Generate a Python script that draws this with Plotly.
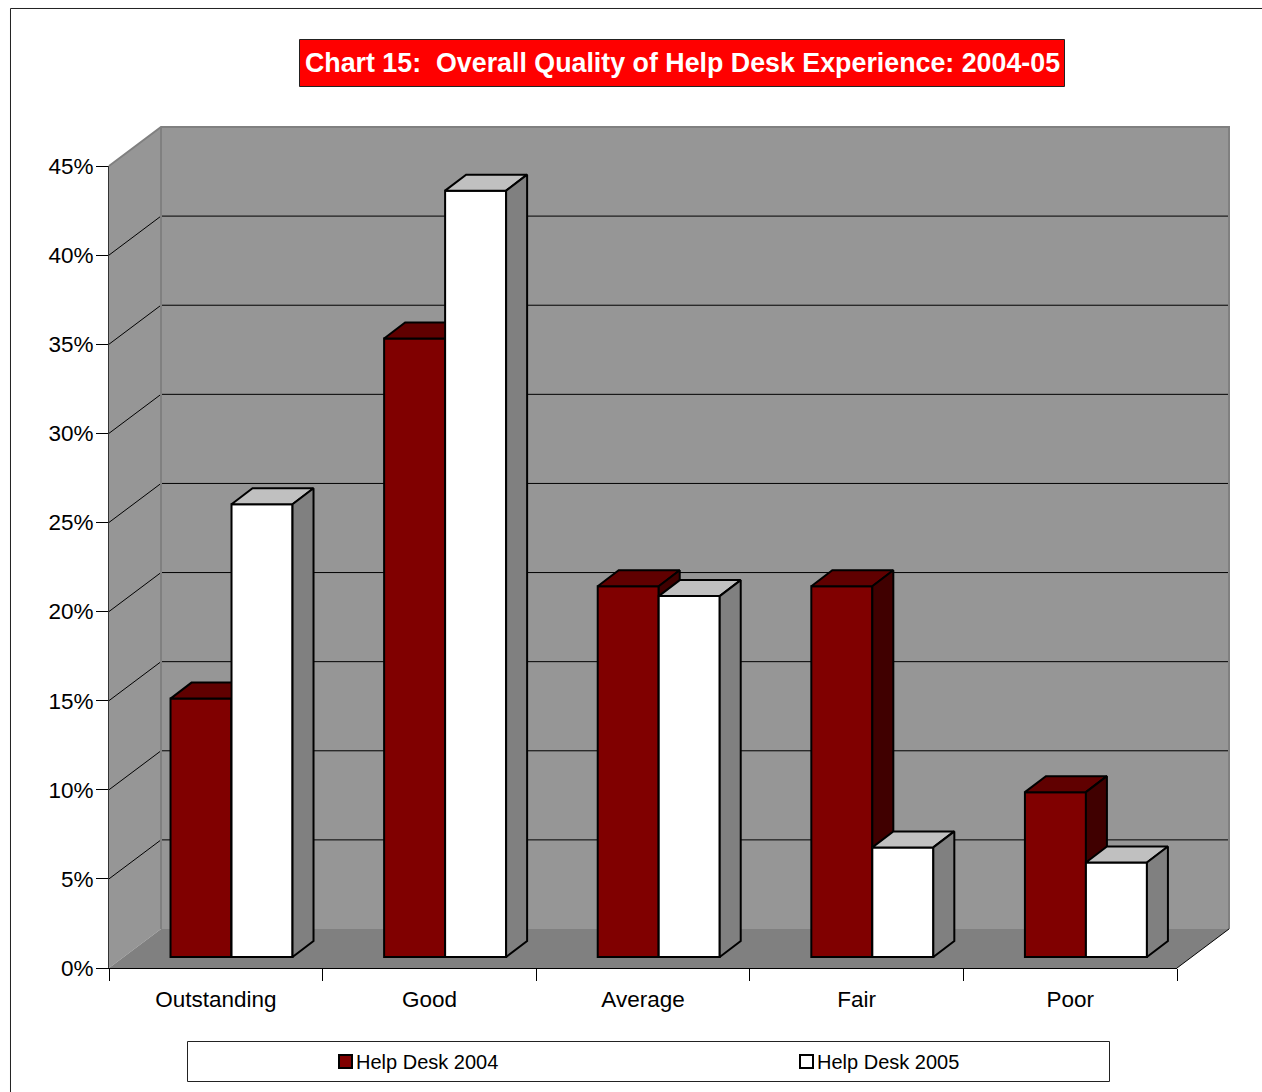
import plotly.graph_objects as go

categories = ["Outstanding", "Good", "Average", "Fair", "Poor"]
help_desk_2004 = [14.5, 34.7, 20.8, 20.8, 9.25]
help_desk_2005 = [25.4, 43.0, 20.25, 6.15, 5.3]
y_ticks = [0, 5, 10, 15, 20, 25, 30, 35, 40, 45]
y_tick_labels = ["0%", "5%", "10%", "15%", "20%", "25%", "30%", "35%", "40%", "45%"]

W, H = 1262, 1092
X0, X1, Y0, Y45 = 109, 1177, 968, 166
PX_X = (X1 - X0) / 5
PX_Y = (Y0 - Y45) / 45
WALL_DX, WALL_DY = 52, 39
BAR_DX, BAR_DY = 21 / PX_X, 16 / PX_Y
BASE = 11 / PX_Y
BAR_W = 61 / PX_X
OFF_2004, OFF_2005 = -0.212, 0.0736
FONT = "Liberation Sans, Arial, sans-serif"


def px(x):
    return x / W


def py(y):
    return 1 - y / H


def path(points):
    return "M " + " L ".join(f"{px(a):.5f},{py(b):.5f}" for a, b in points) + " Z"


def poly_shape(points, fill, line="rgba(0,0,0,0)", width=0):
    return dict(type="path", xref="paper", yref="paper", path=path(points), fillcolor=fill,
                line=dict(color=line, width=width), layer="below")


def seg(points, color="#000000", width=1):
    return dict(type="path", xref="paper", yref="paper",
                path="M " + " L ".join(f"{px(a):.5f},{py(b):.5f}" for a, b in points),
                line=dict(color=color, width=width), layer="below")


shapes = [
    # chart frame, title box
    seg([(10.5, H + 5), (10.5, 8.5), (W + 5, 8.5)], "#222222", 1),
    dict(type="rect", xref="paper", yref="paper", x0=px(299.5), x1=px(1064.5), y0=py(39.5), y1=py(86.5),
         fillcolor="#FF0000", line=dict(color="#222222", width=1), layer="below"),
    # walls and floor
    poly_shape([(X0, Y45), (X0 + WALL_DX, Y45 - WALL_DY), (X0 + WALL_DX, Y0 - WALL_DY), (X0, Y0)], "#969696"),
    poly_shape([(X0 + WALL_DX, Y45 - WALL_DY), (X1 + WALL_DX, Y45 - WALL_DY), (X1 + WALL_DX, Y0 - WALL_DY),
                (X0 + WALL_DX, Y0 - WALL_DY)], "#969696"),
    poly_shape([(X0, Y0), (X0 + WALL_DX, Y0 - WALL_DY), (X1 + WALL_DX, Y0 - WALL_DY), (X1, Y0)], "#808080"),
]
for t in y_ticks[1:-1]:
    y = Y0 - t * PX_Y
    shapes.append(seg([(X0, y), (X0 + WALL_DX, y - WALL_DY), (X1 + WALL_DX, y - WALL_DY)], "#000000", 1))
shapes += [
    seg([(X0, Y45), (X0 + WALL_DX, Y45 - WALL_DY), (X1 + WALL_DX, Y45 - WALL_DY), (X1 + WALL_DX, Y0 - WALL_DY)],
        "#808080", 2),
    seg([(X0 + WALL_DX, Y45 - WALL_DY), (X0 + WALL_DX, Y0 - WALL_DY)], "#808080", 2),
    seg([(X1, Y0), (X1 + WALL_DX, Y0 - WALL_DY)], "#000000", 1),
    # legend box and keys
    dict(type="rect", xref="paper", yref="paper", x0=px(187.5), x1=px(1109.5), y0=py(1041.5), y1=py(1081.5),
         fillcolor="#FFFFFF", line=dict(color="#222222", width=1), layer="below"),
    dict(type="rect", xref="paper", yref="paper", x0=px(339), x1=px(352), y0=py(1055), y1=py(1068),
         fillcolor="#800000", line=dict(color="#000000", width=2), layer="below"),
    dict(type="rect", xref="paper", yref="paper", x0=px(800), x1=px(813), y0=py(1055), y1=py(1068),
         fillcolor="#FFFFFF", line=dict(color="#000000", width=2), layer="below"),
]

fig = go.Figure()


def add_series(values, offset, name, front, top, side, xa, ya):
    xs = list(range(len(categories)))
    fig.add_bar(x=xs, y=values, base=[BASE] * len(values), width=[BAR_W] * len(values),
                offset=[offset] * len(values), name=name, xaxis=xa, yaxis=ya,
                marker=dict(color=front, line=dict(color="#000000", width=2)))
    for i, v in enumerate(values):
        xl = i + offset
        xr = xl + BAR_W
        yt = BASE + v
        fig.add_scatter(x=[xl, xl + BAR_DX, xr + BAR_DX, xr, xl],
                        y=[yt, yt + BAR_DY, yt + BAR_DY, yt, yt],
                        mode="lines", fill="toself", fillcolor=top, xaxis=xa, yaxis=ya,
                        line=dict(color="#000000", width=2), hoverinfo="skip", name=name + " top")
        fig.add_scatter(x=[xr, xr + BAR_DX, xr + BAR_DX, xr, xr],
                        y=[yt, yt + BAR_DY, BASE + BAR_DY, BASE, yt],
                        mode="lines", fill="toself", fillcolor=side, xaxis=xa, yaxis=ya,
                        line=dict(color="#000000", width=2), hoverinfo="skip", name=name + " side")


add_series(help_desk_2004, OFF_2004, "Help Desk 2004", "#800000", "#600000", "#400000", "x", "y")
add_series(help_desk_2005, OFF_2005, "Help Desk 2005", "#FFFFFF", "#C0C0C0", "#808080", "x2", "y2")

font = dict(family=FONT, size=22.5, color="#000000")
x_range = [-0.5, 4.5]
y_range = [0, 45]
dom_x = [px(X0), px(X1)]
dom_y = [py(Y0), py(Y45)]

fig.update_layout(
    width=W, height=H, margin=dict(l=0, r=0, t=0, b=0, pad=0, autoexpand=False), autosize=False,
    paper_bgcolor="#FFFFFF", plot_bgcolor="rgba(0,0,0,0)",
    showlegend=False, barmode="overlay", shapes=shapes,
    title=dict(text="<b>Chart 15:  Overall Quality of Help Desk Experience: 2004-05</b>",
               x=682.5 / W, xanchor="center", xref="paper", y=py(63), yanchor="middle", yref="paper",
               font=dict(family=FONT, size=26.8, color="#FFFFFF")),
    xaxis=dict(domain=dom_x, range=x_range, tickmode="array", tickvals=list(range(5)), ticktext=categories,
               ticks="", ticklabelstandoff=11, showgrid=False, zeroline=False, showline=True,
               linecolor="#000000", linewidth=1, tickfont=font,
               minor=dict(tickmode="array", tickvals=[-0.5, 0.5, 1.5, 2.5, 3.5, 4.5], ticks="outside",
                          ticklen=12, tickcolor="#000000", tickwidth=1, showgrid=False)),
    yaxis=dict(domain=dom_y, range=y_range, tickmode="array", tickvals=y_ticks, ticktext=y_tick_labels,
               ticks="outside", ticklen=12, tickcolor="#000000", tickwidth=1, showgrid=False, zeroline=False,
               ticklabelstandoff=-2,
               showline=True, linecolor="#333333", linewidth=1, tickfont=font),
    xaxis2=dict(overlaying="x", matches="x", visible=False, anchor="y2"),
    yaxis2=dict(overlaying="y", matches="y", visible=False, anchor="x2"),
    annotations=[
        dict(text="Help Desk 2004", xref="paper", yref="paper", x=px(354), y=py(1062), xanchor="left",
             yanchor="middle", showarrow=False, font=dict(family=FONT, size=20, color="#000000")),
        dict(text="Help Desk 2005", xref="paper", yref="paper", x=px(815), y=py(1062), xanchor="left",
             yanchor="middle", showarrow=False, font=dict(family=FONT, size=20, color="#000000")),
    ],
)

fig.write_html("out.html", config=dict(displayModeBar=False),
               post_script="document.body.style.margin='0';")
